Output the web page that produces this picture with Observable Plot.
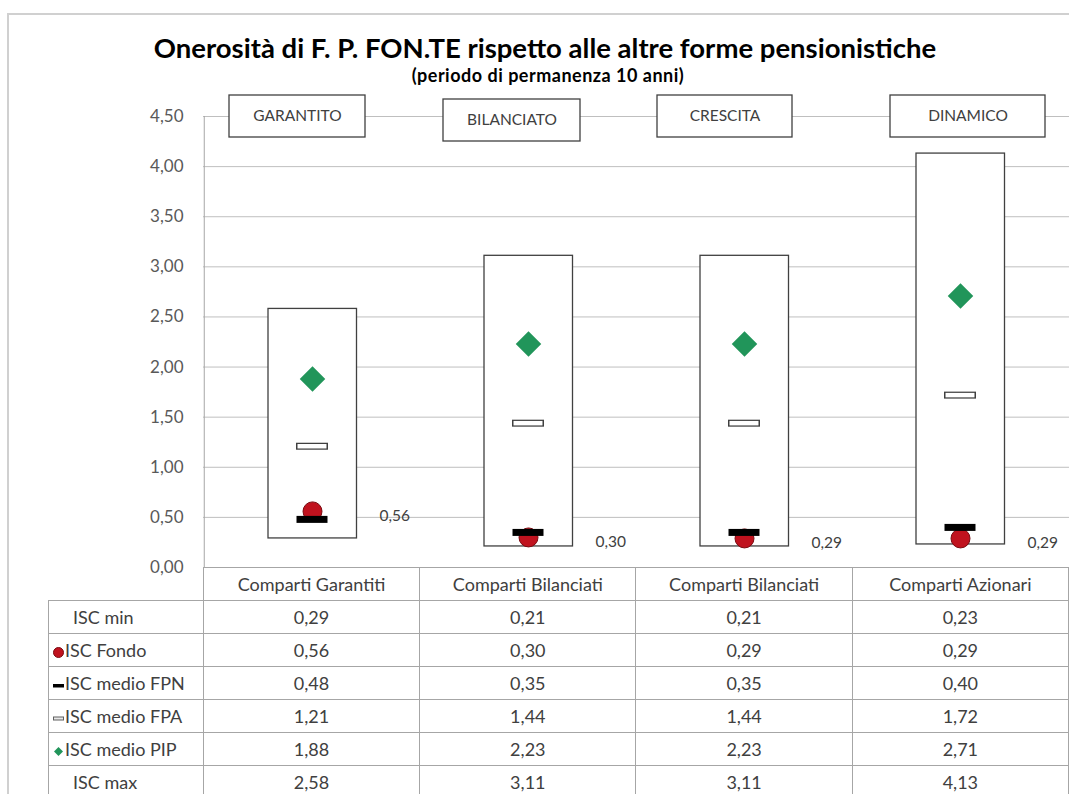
<!DOCTYPE html>
<html><head><meta charset="utf-8">
<script src="https://cdn.jsdelivr.net/npm/d3@7"></script>
<script src="https://cdn.jsdelivr.net/npm/@observablehq/plot@0.6"></script>
<style>
body{margin:0;background:#fff;overflow:hidden;font-family:Lato,"Open Sans",sans-serif;}
#wrap{position:relative;width:1069px;height:794px;overflow:hidden;background:#fff;}
#frame{position:absolute;left:7px;top:13px;width:1200px;height:900px;border-left:2px solid #d0d0d0;border-top:2px solid #d0d0d0;}
#title{position:absolute;left:0;width:1090px;top:31px;text-align:center;font-weight:bold;font-size:27.5px;color:#000;line-height:34px;}
#subtitle{position:absolute;left:0;width:1096px;top:64px;text-align:center;font-weight:bold;font-size:18px;letter-spacing:0.5px;color:#000;line-height:22px;}
#chart{position:absolute;left:0;top:88px;}
#tbl{position:absolute;left:48px;top:567px;border-collapse:collapse;table-layout:fixed;font-size:18px;color:#404040;}
#tbl td{border:1px solid #a6a6a6;padding:0;height:32px;text-align:center;white-space:nowrap;overflow:hidden;}
#tbl td.lab{text-align:left;padding-left:4px;}
#tbl td.blank{border-top:none;border-left:none;}
.sym{display:inline-block;width:11px;margin-right:1px;vertical-align:middle;}
</style></head>
<body><div id="wrap">
<div id="frame"></div>
<div id="title">Onerosità di F. P. FON.TE rispetto alle altre forme pensionistiche</div>
<div id="subtitle">(periodo di permanenza 10 anni)</div>
<div id="chart"></div>
<table id="tbl"></table>
</div>
<script>
// ---- data ----
const headers = ["GARANTITO", "BILANCIATO", "CRESCITA", "DINAMICO"];
const categories = ["Comparti Garantiti", "Comparti Bilanciati", "Comparti Bilanciati", "Comparti Azionari"];
const iscMin = [0.29, 0.21, 0.21, 0.23];
const iscFondo = [0.56, 0.30, 0.29, 0.29];
const iscFPN = [0.48, 0.35, 0.35, 0.40];
const iscFPA = [1.21, 1.44, 1.44, 1.72];
const iscPIP = [1.88, 2.23, 2.23, 2.71];
const iscMax = [2.58, 3.11, 3.11, 4.13];
const yTicks = [0, 0.5, 1, 1.5, 2, 2.5, 3, 3.5, 4, 4.5];
const rowLabels = ["ISC min", "ISC Fondo", "ISC medio FPN", "ISC medio FPA", "ISC medio PIP", "ISC max"];

const fmt = v => d3.format(".2f")(v).replace(".", ",");
const data = headers.map((h, i) => ({h, min: iscMin[i], fondo: iscFondo[i], fpn: iscFPN[i], fpa: iscFPA[i], pip: iscPIP[i], max: iscMax[i]}));
const yMax = d3.max(yTicks);

// header box styling (insets relative to each band)
const hdrStyle = [{l: 25, r: 55, dy: 0}, {l: 23, r: 56, dy: 4}, {l: 21, r: 60, dy: 0}, {l: 38, r: 23, dy: 0}];
const headerMarks = headers.flatMap((h, i) => {
  const s = hdrStyle[i];
  return [
    Plot.barY([h], {x: d => d, y1: yMax, y2: yMax, insetTop: -21, insetBottom: -21, insetLeft: s.l, insetRight: s.r, dy: s.dy, fill: "white", stroke: "#404040", strokeWidth: 1.3}),
    Plot.text([h], {x: d => d, y: yMax, text: d => d, dx: (s.l - s.r) / 2, dy: s.dy, fontSize: 15.5, fill: "#404040"})
  ];
});

const chart = Plot.plot({
  width: 1069, height: 491,
  marginTop: 28, marginBottom: 12, marginLeft: 203, marginRight: 0,
  style: {fontFamily: "Lato, sans-serif", overflow: "visible", background: "transparent"},
  x: {domain: headers, axis: null, padding: 0},
  y: {domain: [0, yMax], label: null, axis: null},
  marks: [
    Plot.gridY(yTicks, {stroke: "#bfbfbf", strokeOpacity: 1, strokeWidth: 1}),
    Plot.axisY(yTicks, {tickFormat: fmt, tickSize: 0, tickPadding: 20, fontSize: 17, fill: "#595959", label: null}),
    Plot.ruleX([headers[0]], {x: d => d, stroke: "#a6a6a6", dx: -108.25}),
    ...headerMarks,
    Plot.barY(data, {x: "h", y1: "min", y2: "max", fill: "white", stroke: "#404040", strokeWidth: 1.3, insetLeft: 64, insetRight: 63.5}),
    Plot.tickY(data, {x: "h", y: "fpa", stroke: "#404040", strokeWidth: 7, insetLeft: 92, insetRight: 92}),
    Plot.tickY(data, {x: "h", y: "fpa", stroke: "white", strokeWidth: 4.5, insetLeft: 93.5, insetRight: 93.5}),
    Plot.dot(data, {x: "h", y: "pip", symbol: "diamond2", r: 11.5, fill: "#21955a", stroke: "none"}),
    Plot.dot(data, {x: "h", y: "fondo", r: 9.5, fill: "#c0121e", stroke: "#7a0a10", strokeWidth: 1}),
    Plot.tickY(data, {x: "h", y: "fpn", stroke: "black", strokeWidth: 7, insetLeft: 92.5, insetRight: 92.5}),
    Plot.text(data, {x: "h", y: "fondo", text: d => fmt(d.fondo), textAnchor: "start", dx: 67, dy: 5, fontSize: 15.5, fill: "#404040"})
  ]
});
document.getElementById("chart").appendChild(chart);

// ---- data table ----
const syms = [
  null,
  '<svg class="sym" width="11" height="11"><circle cx="5.5" cy="5.5" r="5" fill="#c0121e" stroke="#7a0a10"/></svg>',
  '<svg class="sym" width="11" height="11"><rect x="0" y="4" width="11" height="3.5" fill="black"/></svg>',
  '<svg class="sym" width="11" height="11"><rect x="0.5" y="4" width="10" height="3" fill="#e8e8e8" stroke="#606060" stroke-width="1"/></svg>',
  '<svg class="sym" width="11" height="11"><path d="M5.5 1 L10 5.5 L5.5 10 L1 5.5Z" fill="#21955a"/></svg>',
  null
];
const series = [iscMin, iscFondo, iscFPN, iscFPA, iscPIP, iscMax];
const tbl = d3.select("#tbl");
const cg = tbl.append("colgroup");
cg.append("col").style("width", "155px");
headers.forEach(() => cg.append("col").style("width", "216.5px"));
const hr = tbl.append("tr");
hr.append("td").attr("class", "blank");
categories.forEach(c => hr.append("td").text(c));
rowLabels.forEach((lab, r) => {
  const tr = tbl.append("tr");
  const td = tr.append("td").attr("class", "lab");
  if (syms[r]) td.html(syms[r] + lab);
  else td.style("padding-left", "24px").text(lab);
  series[r].forEach(v => tr.append("td").text(fmt(v)));
});
</script>
</body></html>
